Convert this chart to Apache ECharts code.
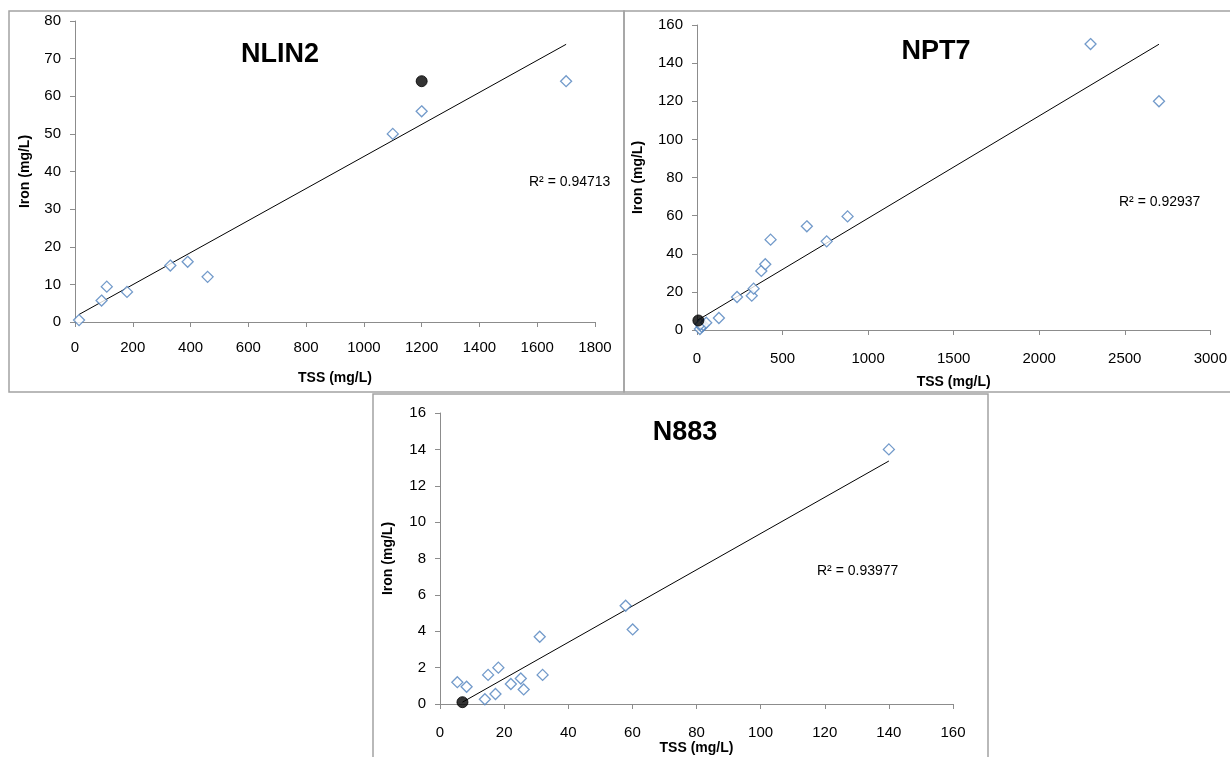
<!DOCTYPE html>
<html>
<head>
<meta charset="utf-8">
<script src="https://cdn.jsdelivr.net/npm/echarts@6/dist/echarts.min.js"></script>
<style>
  html, body { margin: 0; padding: 0; background: #fff; }
  #chart { width: 1230px; height: 757px; }
</style>
</head>
<body>
<div id="chart"></div>
<script>
// NLIN2
const nlin2Tss = [14, 92, 110, 180, 330, 390, 459, 1100, 1200, 1700];
const nlin2Iron = [0.5, 5.7, 9.4, 8, 15, 16, 12, 50, 56, 64];
const nlin2Marked = [[1200, 64]];
const nlin2Trend = [[14, 2.0], [1700, 73.8]];
const nlin2R2 = 'R² = 0.94713';

// NPT7
const npt7Tss = [17, 27, 37, 20, 54, 128, 234, 320, 331, 376, 399, 430, 642, 758, 880, 2300, 2700];
const npt7Iron = [0.5, 1.7, 2.6, 3, 3.8, 6.3, 17.3, 18, 21.7, 31, 34.5, 47.4, 54.4, 46.5, 59.6, 150, 120];
const npt7Marked = [[8, 5]];
const npt7Trend = [[5, 5.2], [2700, 149.9]];
const npt7R2 = 'R² = 0.92937';

// N883
const n883Tss = [5.4, 8.3, 14, 15, 17.3, 18.2, 22.1, 25.2, 26.1, 31.1, 32, 57.9, 60.1, 140];
const n883Iron = [1.2, 0.95, 0.26, 1.6, 0.55, 2.0, 1.1, 1.4, 0.8, 3.7, 1.6, 5.4, 4.1, 14];
const n883Marked = [[7, 0.1]];
const n883Trend = [[7, 0.1], [140, 13.36]];
const n883R2 = 'R² = 0.93977';

const FONT = 'Liberation Sans, Arial, sans-serif';
const axisGrey = '#8c8c8c';
const borderGrey = '#a3a3a3';
const diamondBlue = '#4f81bd';

const zip = (xs, ys) => xs.map((x, i) => [x, ys[i]]);

const chart = echarts.init(document.getElementById('chart'));

const grids = [
  { left: 75, top: 21, width: 520, height: 301 },
  { left: 697, top: 25, width: 516, height: 305 },
  { left: 440, top: 413, width: 513, height: 291 }
];

const xCfg = [
  { max: 1800, interval: 200, nameGap: 49 },
  { max: 3000, interval: 500, nameGap: 45 },
  { max: 160, interval: 20, nameGap: 37 }
];
const yCfg = [
  { max: 80, interval: 10, nameGap: 43 },
  { max: 160, interval: 20, nameGap: 52 },
  { max: 16, interval: 2, nameGap: 45 }
];

const baseAxis = {
  type: 'value',
  min: 0,
  splitLine: { show: false },
  axisLine: { show: true, lineStyle: { color: axisGrey, width: 1 } },
  axisTick: { show: true, inside: false, length: 5, lineStyle: { color: axisGrey } },
  nameLocation: 'middle',
  nameTextStyle: { fontFamily: FONT, fontWeight: 'bold', fontSize: 14, color: '#000' }
};

const plain = v => String(v);

const xAxes = xCfg.map((c, i) => Object.assign({}, baseAxis, {
  gridIndex: i, max: c.max, interval: c.interval,
  name: 'TSS (mg/L)', nameGap: c.nameGap,
  axisLabel: { fontFamily: FONT, fontSize: 15, color: '#000', margin: i === 0 ? 18 : 21, formatter: plain }
}));
const yAxes = yCfg.map((c, i) => Object.assign({}, baseAxis, {
  gridIndex: i, max: c.max, interval: c.interval,
  name: 'Iron (mg/L)', nameGap: c.nameGap,
  axisLabel: { fontFamily: FONT, fontSize: 15, color: '#000', margin: 14, formatter: plain }
}));

const sets = [
  [nlin2Tss, nlin2Iron, nlin2Marked, nlin2Trend],
  [npt7Tss, npt7Iron, npt7Marked, npt7Trend],
  [n883Tss, n883Iron, n883Marked, n883Trend]
];

const series = [];
sets.forEach(([xs, ys, marked, trend], i) => {
  series.push({
    type: 'line', xAxisIndex: i, yAxisIndex: i, data: trend,
    showSymbol: false, symbol: 'none',
    lineStyle: { color: '#000', width: 1 }, silent: true, z: 2
  });
  series.push({
    type: 'scatter', xAxisIndex: i, yAxisIndex: i, data: zip(xs, ys),
    symbol: 'diamond', symbolSize: 11,
    itemStyle: { color: '#fff', borderColor: diamondBlue, borderWidth: 1.3 }, z: 3
  });
  series.push({
    type: 'scatter', xAxisIndex: i, yAxisIndex: i, data: marked,
    symbol: 'circle', symbolSize: 11,
    itemStyle: { color: '#000', borderColor: '#000' }, z: 4
  });
});

const titleStyle = { fontFamily: FONT, fontWeight: 'bold', fontSize: 27, color: '#000' };
const r2Style = { fontFamily: FONT, fontSize: 14, fill: '#000' };

chart.setOption({
  backgroundColor: '#fff',
  animation: false,
  title: [
    { text: 'NLIN2', left: 275, top: 50, textAlign: 'center', textVerticalAlign: 'middle', textStyle: titleStyle },
    { text: 'NPT7', left: 931, top: 47, textAlign: 'center', textVerticalAlign: 'middle', textStyle: titleStyle },
    { text: 'N883', left: 680, top: 428, textAlign: 'center', textVerticalAlign: 'middle', textStyle: titleStyle }
  ],
  grid: grids,
  xAxis: xAxes,
  yAxis: yAxes,
  series: series,
  graphic: [
    // panel frames
    { type: 'rect', shape: { x: 9, y: 11, width: 615, height: 381 }, style: { fill: 'none', stroke: borderGrey, lineWidth: 1.5 }, z: -1 },
    { type: 'rect', shape: { x: 624, y: 11, width: 620, height: 381 }, style: { fill: 'none', stroke: borderGrey, lineWidth: 1.5 }, z: -1 },
    { type: 'rect', shape: { x: 373, y: 394, width: 615, height: 380 }, style: { fill: 'none', stroke: borderGrey, lineWidth: 1.5 }, z: -1 },
    // R² labels
    { type: 'text', left: 529, top: 175, style: Object.assign({ text: nlin2R2 }, r2Style) },
    { type: 'text', left: 1119, top: 195, style: Object.assign({ text: npt7R2 }, r2Style) },
    { type: 'text', left: 817, top: 564, style: Object.assign({ text: n883R2 }, r2Style) }
  ]
});
</script>
</body>
</html>
